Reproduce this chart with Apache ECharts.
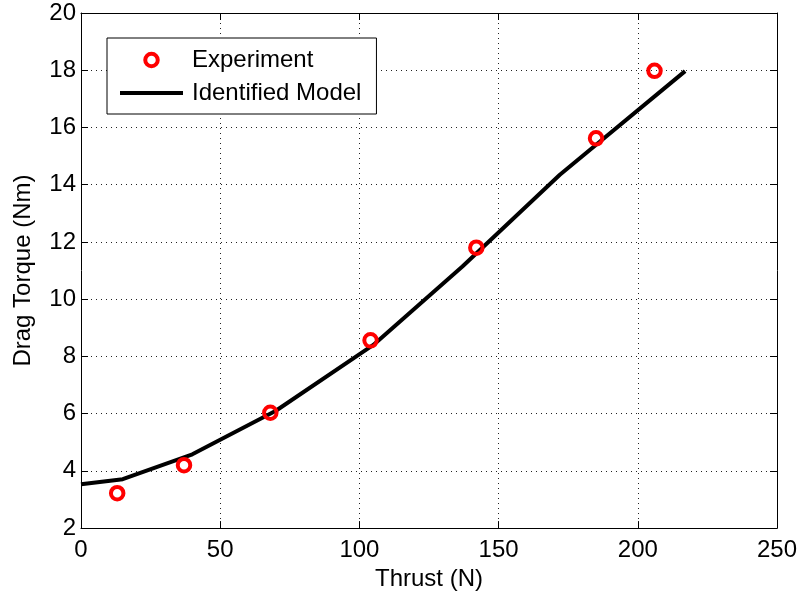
<!DOCTYPE html>
<html>
<head>
<meta charset="utf-8">
<script src="https://cdn.jsdelivr.net/npm/echarts@6/dist/echarts.min.js"></script>
<style>
  html, body { margin: 0; padding: 0; background: #fff; }
  #chart { width: 801px; height: 596px; }
</style>
</head>
<body>
<div id="chart"></div>
<script>
// Measured thrust / drag torque pairs
const expThrust = [13, 37, 68, 104, 142, 185, 206];
const expTorque = [3.22, 4.2, 6.03, 8.56, 11.8, 15.62, 17.98];

// Identified model curve
const modelThrust = [0, 15, 40, 70, 105, 137, 172, 217];
const modelTorque = [3.53, 3.71, 4.58, 6.1, 8.4, 11.14, 14.35, 17.97];

// Axis ranges and tick spacing
const xRange = [0, 250, 50];
const yRange = [2, 20, 2];

const FONT = 'Liberation Sans, Arial, Helvetica, sans-serif';
const FS = 24;

const pairs = (xs, ys) => xs.map((x, i) => [x, ys[i]]);

const gridLine = { show: true, lineStyle: { color: '#222', width: 1, type: [1, 4] } };
const tickIn = { show: true, inside: true, length: 7, lineStyle: { color: '#000', width: 1 } };

function valueAxis(range, extra) {
  return Object.assign({
    type: 'value',
    min: range[0],
    max: range[1],
    interval: range[2],
    axisLine: { show: true, onZero: false, lineStyle: { color: '#000', width: 1 } },
    axisTick: tickIn,
    splitLine: { show: false },
    axisLabel: { show: false }
  }, extra);
}

const chart = echarts.init(document.getElementById('chart'), null, { renderer: 'canvas' });

chart.setOption({
  animation: false,
  backgroundColor: '#fff',
  textStyle: { fontFamily: FONT },
  grid: { left: 81, right: 24, top: 13, bottom: 67, containLabel: false },
  xAxis: [
    valueAxis(xRange, {
      position: 'bottom',
      splitLine: gridLine,
      axisLabel: { show: true, color: '#000', fontSize: FS, fontFamily: FONT, margin: 10 },
      name: 'Thrust (N)',
      nameLocation: 'middle',
      nameGap: 36,
      nameTextStyle: { color: '#000', fontSize: FS, fontFamily: FONT }
    }),
    valueAxis(xRange, { position: 'top' })
  ],
  yAxis: [
    valueAxis(yRange, {
      position: 'left',
      splitLine: gridLine,
      axisLabel: { show: true, color: '#000', fontSize: FS, fontFamily: FONT, margin: 5 },
      name: 'Drag Torque (Nm)',
      nameLocation: 'middle',
      nameGap: 46,
      nameTextStyle: { color: '#000', fontSize: FS, fontFamily: FONT }
    }),
    valueAxis(yRange, { position: 'right' })
  ],
  legend: {
    orient: 'vertical',
    left: 107,
    top: 38,
    padding: [10, 15, 9, 13],
    itemGap: 9,
    itemWidth: 63,
    itemHeight: 12.5,
    borderColor: '#000',
    borderWidth: 1,
    backgroundColor: '#fff',
    textStyle: { color: '#000', fontSize: FS, fontFamily: FONT, padding: [0, 0, 0, 4] },
    data: [
      { name: 'Experiment', icon: 'circle', itemStyle: { color: '#fff', borderColor: '#ff0000', borderWidth: 4, opacity: 1 } },
      { name: 'Identified Model', icon: 'path://M0,0L63,0L63,4L0,4Z', itemStyle: { color: '#000', borderWidth: 0 } }
    ]
  },
  series: [
    {
      name: 'Identified Model',
      type: 'line',
      xAxisIndex: 0,
      yAxisIndex: 0,
      data: pairs(modelThrust, modelTorque),
      symbol: 'none',
      lineStyle: { color: '#000', width: 4 },
      itemStyle: { color: '#000' },
      z: 2
    },
    {
      name: 'Experiment',
      type: 'scatter',
      xAxisIndex: 0,
      yAxisIndex: 0,
      data: pairs(expThrust, expTorque),
      symbol: 'circle',
      symbolSize: 12.5,
      itemStyle: { color: 'rgba(0,0,0,0)', borderColor: '#ff0000', borderWidth: 4, opacity: 1 },
      z: 3
    }
  ]
});
</script>
</body>
</html>
